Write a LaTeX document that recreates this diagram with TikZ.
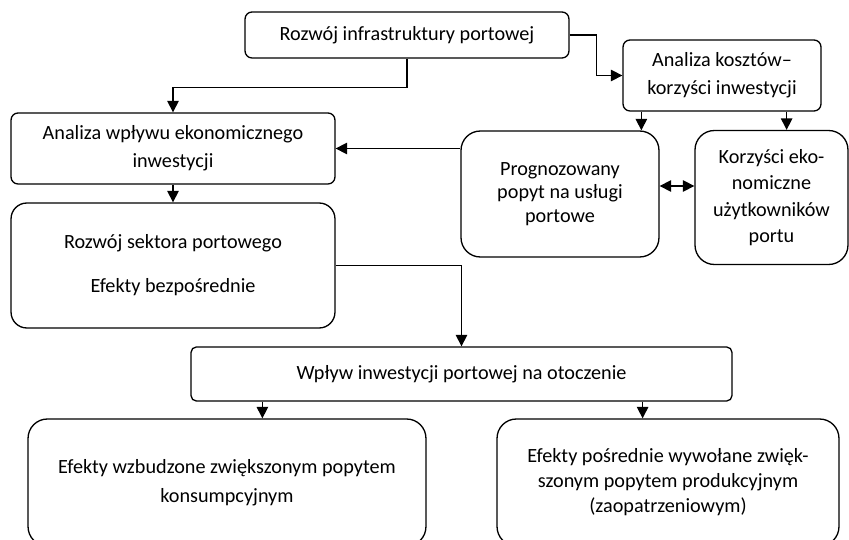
\documentclass[tikz,border=0pt]{standalone}
\usepackage{fontspec}
\setmainfont{Carlito}
\usepackage{tikz}
\usetikzlibrary{arrows.meta,calc,positioning}

\tikzset{
  blok/.style={draw,line width=0.75pt,align=center,inner sep=2pt},
  strz/.style={line width=0.7pt,-{Triangle[length=6.5pt,width=6.5pt]}},
  dwustrz/.style={line width=0.7pt,{Triangle[length=6.5pt,width=6.5pt]}-{Triangle[length=6.5pt,width=6.5pt]}}
}

\begin{document}
\begin{tikzpicture}[x=0.02cm,y=-0.02cm]
  \useasboundingbox (0,0) rectangle (849,540);
  \clip (0,0) rectangle (849,540);
  \foreach \n/\x/\y/\w/\h/\rr/\ls/\lab in {
     infra/407/35/6.48/0.92/4/13.5/{Rozwój infrastruktury portowej},
     koszt/722/75.5/3.96/1.42/4/16/{Analiza kosztów–\\korzyści inwestycji},
     wplyw/173/148.5/6.48/1.42/4/16/{Analiza wpływu ekonomicznego\\inwestycji},
     prog/560/194/3.96/2.52/11/13.2/{Prognozowany\\popyt na usługi\\portowe},
     korz/771.5/197.5/3.06/2.68/11/15/{Korzyści eko-\\nomiczne\\użytkowników\\portu},
     sektor/173/265.5/6.48/2.5/9/25/{Rozwój sektora portowego\\Efekty bezpośrednie},
     otocz/461.5/374/10.82/1.08/3/13.5/{Wpływ inwestycji portowej na otoczenie},
     wzbud/227/482.5/7.96/2.54/11/16.5/{Efekty wzbudzone zwiększonym popytem\\konsumpcyjnym},
     posred/668/482.5/6.84/2.54/11/14.2/{Efekty pośrednie wywołane zwięk-\\szonym popytem produkcyjnym\\(zaopatrzeniowym)}}
  { \node[blok,rounded corners=\rr pt,minimum width=\w cm,minimum height=\h cm,
      font=\fontsize{11.5}{\ls}\selectfont] (\n) at (\x,\y) {\lab}; }

  % polaczenia
  \draw[strz] (infra.south) -- ++(0,29) -| (wplyw.north);
  \draw[strz] (infra.east) -- ++(27,0) |- (koszt.west);
  \coordinate (k1) at ($(koszt.south west)+(19,0)$);
  \coordinate (k2) at ($(koszt.south east)+(-35,0)$);
  \draw[strz] (k1) -- (k1 |- prog.north);
  \draw[strz] (k2) -- (k2 |- korz.north);
  \draw[strz] (prog.west |- wplyw.east) -- (wplyw.east);
  \coordinate (d1) at ($(prog.east)+(0,-8)$);
  \draw[dwustrz] (d1) -- (d1 -| korz.west);
  \draw[strz] (wplyw.south) -- (sektor.north);
  \draw[strz] (sektor.east) -| (otocz.north);
  \coordinate (o1) at ($(otocz.south west)+(72,0)$);
  \coordinate (o2) at ($(otocz.south east)+(-90,0)$);
  \draw[strz] (o1) -- (o1 |- wzbud.north);
  \draw[strz] (o2) -- (o2 |- posred.north);
\end{tikzpicture}
\end{document}
